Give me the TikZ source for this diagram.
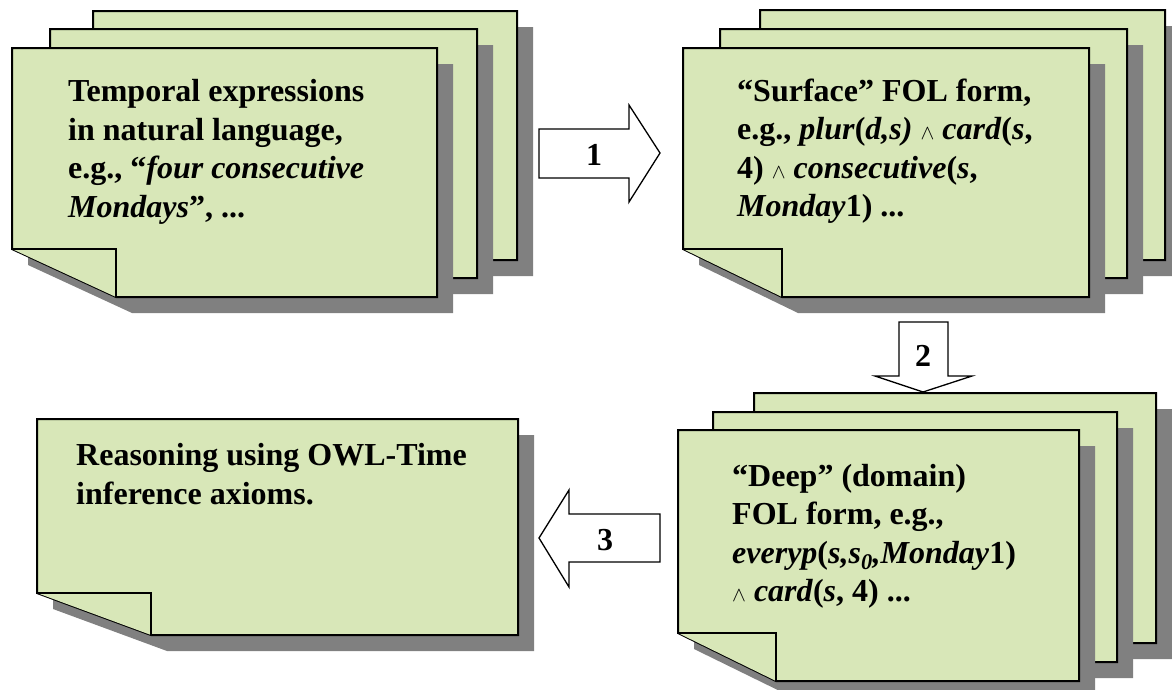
\documentclass[tikz,border=0pt]{standalone}
\usepackage{fontspec}
\setmainfont{Liberation Serif}
\usetikzlibrary{calc}

\definecolor{sheetfill}{RGB}{216,231,184}
\definecolor{sheetshadow}{RGB}{128,128,128}

% one sheet of paper with a dog-eared lower left corner and a drop shadow
% #1,#2 upper left corner; #3,#4 lower right corner; #5 fold width; #6 fold height
\newcommand\cardsheet[6]{%
  \begin{scope}[shift={(16,16)}]
    \fill[sheetshadow] (#1,#2) -- (#3,#2) -- (#3,#4) -- ({#1+#5},#4) -- (#1,{#4-#6}) -- cycle;
  \end{scope}
  \filldraw[sheetedge] (#1,#2) -- (#3,#2) -- (#3,#4) -- ({#1+#5},#4) -- (#1,{#4-#6}) -- cycle;
  \draw[sheetedge] (#1,{#4-#6}) -- ({#1+#5},{#4-#6}) -- ({#1+#5},#4);
}
\newcommand\andsym{{\fontsize{20}{20}\selectfont$\wedge$}}

\begin{document}
\begin{tikzpicture}[x=1pt,y=-1pt,
  sheetedge/.style={draw=black,fill=sheetfill,line width=2pt,line join=miter},
  blockarrow/.style={draw=black,fill=white,line width=1.3pt,line join=miter},
  % the base anchor of a multi-line node sits on its last line
  sheettext/.style={anchor=base west,inner sep=0pt,align=left,
    font=\fontsize{32}{38.5}\selectfont\bfseries},
  steplabel/.style={inner sep=0pt,font=\fontsize{32}{38}\selectfont\bfseries}]
\useasboundingbox (0,0) rectangle (1172,689);

% stack 1: natural language
\cardsheet{93}{11}{517}{260}{104}{48}
\cardsheet{50}{29}{477}{278}{104}{48}
\cardsheet{12}{48}{437}{297}{104}{48}
\node[sheettext] (nl) at (68,217.2) {Temporal expressions\\
in natural language,\\
e.g., “\textit{four consecutive}\\
\textit{Mondays}”, ...};

% stack 2: surface logical form
\cardsheet{760}{10}{1165}{260}{99}{48}
\cardsheet{720}{29}{1127}{278}{99}{48}
\cardsheet{683}{48}{1089}{297}{99}{48}
\node[sheettext] (surface) at (737,216.7) {“Surface” FOL form,\\
e.g., \textit{plur}(\textit{d,s)} \andsym\ \textit{card}(\textit{s},\\
4) \andsym\ \textit{consecutive}(\textit{s},\\
\textit{Monday}1) ...};

% stack 3: deep logical form
\cardsheet{754}{393}{1156}{643}{98}{48}
\cardsheet{713}{412}{1117}{662}{98}{48}
\cardsheet{678}{430}{1079}{681}{98}{48}
\node[sheettext] (deep) at (732,601.5) {“Deep” (domain)\\
FOL form, e.g.,\\
\textit{everyp}(\textit{s,s\textsubscript{0},Monday}1)\\
\andsym\ \textit{card}(\textit{s}, 4) ...};

% single sheet: reasoning
\cardsheet{37}{419}{518}{635}{114}{42}
\node[sheettext] (reason) at (76,504) {Reasoning using OWL-Time\\
inference axioms.};

% step 1: right
\draw[blockarrow] (539,129) -- (629,129) -- (629,105) -- (660,153) -- (629,202)
  -- (629,178) -- (539,178) -- cycle;
\node[steplabel] (s1) at (594,155) {1};

% step 2: down
\draw[blockarrow] (899,322) -- (948,322) -- (948,376) -- (972,376) -- (923,392)
  -- (875,376) -- (899,376) -- cycle;
\node[steplabel] (s2) at (923,356) {2};

% step 3: left
\draw[blockarrow] (660,514) -- (569,514) -- (569,490) -- (539,538) -- (569,587)
  -- (569,562) -- (660,562) -- cycle;
\node[steplabel] (s3) at (605,540) {3};
\end{tikzpicture}
\end{document}
